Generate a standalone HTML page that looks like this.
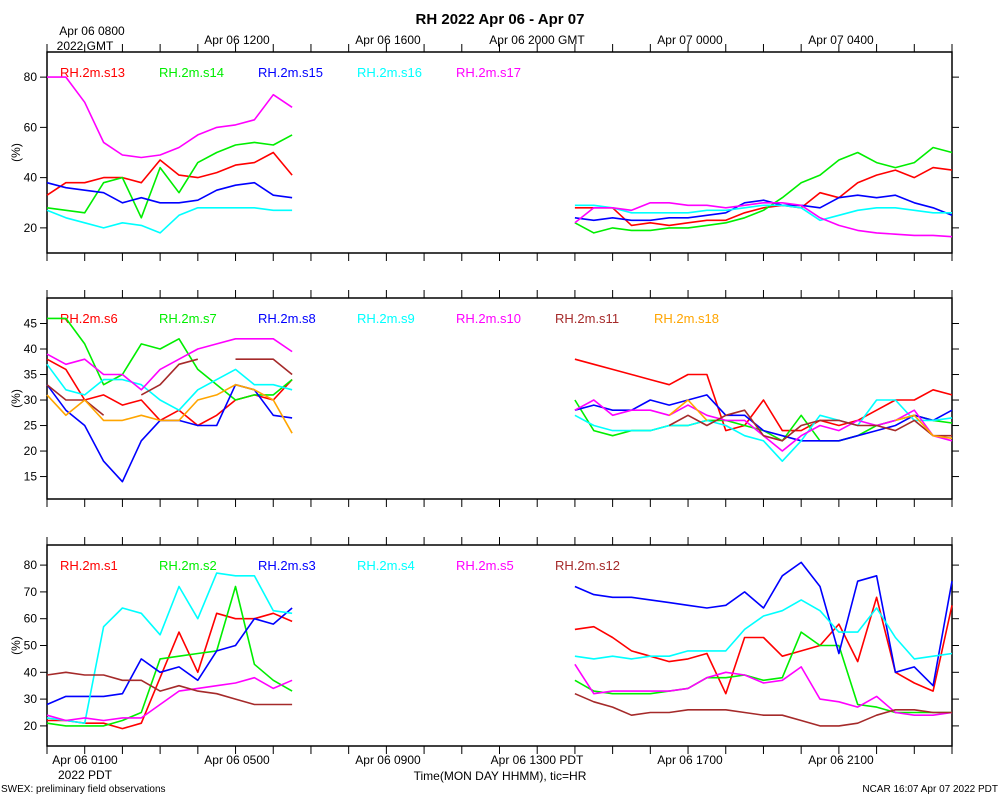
<!DOCTYPE html>
<html><head><meta charset="utf-8">
<style>
body{margin:0;background:#fff;}
svg text{font-family:"Liberation Sans",sans-serif;}
</style></head>
<body>
<svg id="chart" width="1000" height="800" xmlns="http://www.w3.org/2000/svg">
<text x="500" y="24" text-anchor="middle" font-size="15" font-weight="bold">RH 2022 Apr 06 - Apr 07</text>
<g id="top-labels" font-size="12">
<text x="92" y="35" text-anchor="middle">Apr 06 0800</text>
<text x="85" y="50" text-anchor="middle">2022 GMT</text>
<text x="237" y="44" text-anchor="middle">Apr 06 1200</text>
<text x="388" y="44" text-anchor="middle">Apr 06 1600</text>
<text x="537" y="44" text-anchor="middle">Apr 06 2000 GMT</text>
<text x="690" y="44" text-anchor="middle">Apr 07 0000</text>
<text x="841" y="44" text-anchor="middle">Apr 07 0400</text>
</g>
<g font-size="12">
<text x="85" y="764" text-anchor="middle">Apr 06 0100</text>
<text x="85" y="779" text-anchor="middle">2022 PDT</text>
<text x="237" y="764" text-anchor="middle">Apr 06 0500</text>
<text x="388" y="764" text-anchor="middle">Apr 06 0900</text>
<text x="537" y="764" text-anchor="middle">Apr 06 1300 PDT</text>
<text x="690" y="764" text-anchor="middle">Apr 06 1700</text>
<text x="841" y="764" text-anchor="middle">Apr 06 2100</text>
</g>
<text x="500" y="780" text-anchor="middle" font-size="12">Time(MON DAY HHMM), tic=HR</text>
<text x="1" y="792" font-size="10">SWEX: preliminary field observations</text>
<text x="998" y="792" text-anchor="end" font-size="10">NCAR 16:07 Apr 07 2022 PDT</text>
</svg>
<script>
const t1 = [0,0.5,1,1.5,2,2.5,3,3.5,4,4.5,5,5.5,6,6.5];
const t2 = [14,14.5,15,15.5,16,16.5,17,17.5,18,18.5,19,19.5,20,20.5,21,21.5,22,22.5,23,23.5,24];
const p1Ticks = [20,40,60,80];
const p2Ticks = [15,20,25,30,35,40,45];
const p3Ticks = [20,30,40,50,60,70,80];
// panel 1
const s13a=[33,38,38,40,40,38,47,41,40,42,45,46,50,41];
const s13b=[28,28,28,21,22,21,22,23,23,26,28,29,28,34,32,38,41,43,40,44,43];
const s14a=[28,27,26,38,40,24,44,34,46,50,53,54,53,57];
const s14b=[22,18,20,19,19,20,20,21,22,24,27,32,38,41,47,50,46,44,46,52,50];
const s15a=[38,36,35,34,30,32,30,30,31,35,37,38,33,32];
const s15b=[24,23,24,23,23,24,24,25,26,30,31,29,29,28,32,33,32,33,30,28,25];
const s16a=[27,24,22,20,22,21,18,25,28,28,28,28,27,27];
const s16b=[29,29,28,26,26,26,26,27,27,28,29,29,28,23,25,27,28,28,27,26,26];
const s17a=[80,80,70,54,49,48,49,52,57,60,61,63,73,68];
const s17b=[22,28,28,27,30,30,29,29,28,29,30,30,29,24,21,19,18,17.5,17,17,16.5];
// panel 2
const s6a=[38,36,30,31,29,30,26,28,25,27,30,31,30,34];
const s6b=[38,37,36,35,34,33,35,35,24,25,30,24,24,26,25,26,28,30,30,32,31];
const s7a=[46,46,41,33,35,41,40,42,36,33,30,31,31,34];
const s7b=[30,24,23,24,24,25,25,26,26,25,24,22,27,22,22,23,25,26,27,26,25.5];
const s8a=[33,28,25,18,14,22,26,26,25,25,33,32,27,26.5];
const s8b=[28,29,28,28,30,29,30,31,27,27,24,23,22,22,22,23,24,25,27,26,28];
const s9a=[37,32,31,34,34,33,30,28,32,34,36,33,33,32];
const s9b=[27,25,24,24,24,25,25,26,25,23,22,18,22,27,26,25,30,30,26,26,26.5];
const s10a=[39,37,38,35,35,32,36,38,40,41,42,42,42,39.5];
const s10b=[28,30,27,28,28,27,29,27,26,26,23,20,23,25,24,26,25,26,28,23,22];
const s11a=[33,30,30,27,null,31,33,37,38,null,38,38,38,35];
const s11b=[null,null,null,null,null,25,27,25,27,28,23,22,25,26,26,25,25,24,26,23,23];
const s18a=[31,27,30,26,26,27,26,26,30,31,33,32,30,23.5];
const s18b=[null,null,null,null,null,27,30,26,null,null,null,null,null,null,null,null,null,26,27,23,22.5];
// panel 3
const s1a=[22,22,21,21,19,21,38,55,40,62,60,60,62,59];
const s1b=[56,57,53,48,46,44,45,47,32,53,53,46,48,50,58,44,68,40,36,33,65];
const s2a=[21,20,20,20,22,25,45,46,47,48,72,43,37,33];
const s2b=[37,33,32,32,32,33,34,38,38,39,37,38,55,50,50,28,27,25,25,25,25];
const s3a=[28,31,31,31,32,45,40,42,37,48,50,60,58,64];
const s3b=[72,69,68,68,67,66,65,64,65,70,64,76,81,72,47,74,76,40,42,35,74];
const s4a=[23,22,21,57,64,62,54,72,60,77,76,76,63,62];
const s4b=[46,45,46,45,46,46,48,48,48,56,61,63,67,63,55,55,64,53,45,46,47];
const s5a=[24,22,23,22,23,23,28,33,34,35,36,38,34,37];
const s5b=[43,32,33,33,33,33,34,38,40,39,36,37,42,30,29,27,31,25,24,24,25];
const s12a=[39,40,39,39,37,37,33,35,33,32,30,28,28,28];
const s12b=[32,29,27,24,25,25,26,26,26,25,24,24,22,20,20,21,24,26,26,25,25];

const NS='http://www.w3.org/2000/svg';
const svg=document.getElementById('chart');
const X0=47,X1=952;
const xs=h=>X0+(X1-X0)*h/24;
function mk(tag,attrs,parent){const e=document.createElementNS(NS,tag);for(const k in attrs)e.setAttribute(k,attrs[k]);(parent||svg).appendChild(e);return e;}

const panels=[
 {name:'panel-top',top:52,bot:253,vmin:10,vmax:90,ticks:p1Ticks,
  series:[['RH.2m.s13','#ff0000',s13a,s13b],['RH.2m.s14','#00ee00',s14a,s14b],['RH.2m.s15','#0000ff',s15a,s15b],['RH.2m.s16','#00ffff',s16a,s16b],['RH.2m.s17','#ff00ff',s17a,s17b]]},
 {name:'panel-middle',top:298,bot:499,vmin:10.6,vmax:50,ticks:p2Ticks,
  series:[['RH.2m.s6','#ff0000',s6a,s6b],['RH.2m.s7','#00ee00',s7a,s7b],['RH.2m.s8','#0000ff',s8a,s8b],['RH.2m.s9','#00ffff',s9a,s9b],['RH.2m.s10','#ff00ff',s10a,s10b],['RH.2m.s11','#a52a2a',s11a,s11b],['RH.2m.s18','#ffa500',s18a,s18b]]},
 {name:'panel-bottom',top:545,bot:746,vmin:12.5,vmax:87.5,ticks:p3Ticks,
  series:[['RH.2m.s1','#ff0000',s1a,s1b],['RH.2m.s2','#00ee00',s2a,s2b],['RH.2m.s3','#0000ff',s3a,s3b],['RH.2m.s4','#00ffff',s4a,s4b],['RH.2m.s5','#ff00ff',s5a,s5b],['RH.2m.s12','#a52a2a',s12a,s12b]]}
];

panels.forEach(p=>{
 const g=mk('g',{});
 
 
 const ys=v=>p.bot-(p.bot-p.top)*(v-p.vmin)/(p.vmax-p.vmin);
 const frame=mk('rect',{x:X0,y:p.top,width:X1-X0,height:p.bot-p.top,fill:'none',stroke:'#000','stroke-width':1.5},g);
 
 
 for(let h=0;h<=24;h++){
  const x=xs(h);
  mk('line',{x1:x,x2:x,y1:p.top,y2:p.top-8,stroke:'#000'},g);
  mk('line',{x1:x,x2:x,y1:p.bot,y2:p.bot+8,stroke:'#000'},g);
 }
 p.ticks.forEach(v=>{
  const y=ys(v);
  mk('line',{x1:X0,x2:X0-7,y1:y,y2:y,stroke:'#000'},g);
  mk('line',{x1:X1,x2:X1+7,y1:y,y2:y,stroke:'#000'},g);
  const t=mk('text',{x:37,y:y+4,'text-anchor':'end','font-size':12},g);
  
  
  t.textContent=v;
 });
 const yc=(p.top+p.bot)/2;
 const yl=mk('text',{x:20,y:yc,'text-anchor':'middle','font-size':12,transform:`rotate(-90 20 ${yc})`},g);
 
 
 yl.textContent='(%)';
 p.series.forEach((s,i)=>{
  const [label,color,a,b]=s;
  [[t1,a],[t2,b]].forEach(([tt,vv])=>{
   let d='',pen=false;
   vv.forEach((v,j)=>{
    if(v===null){pen=false;return;}
    d+=(pen?'L':'M')+xs(tt[j]).toFixed(1)+' '+ys(v).toFixed(1)+' ';pen=true;
   });
   if(d){
    const path=mk('path',{d:d,fill:'none',stroke:color,'stroke-width':1.6,'stroke-linejoin':'round'},g);
    
    
   }
  });
  const lt=mk('text',{x:60+i*99,y:p.top+25,'font-size':13,fill:color},g);
  
  
  lt.textContent=label;
 });
});
</script>
</body></html>
